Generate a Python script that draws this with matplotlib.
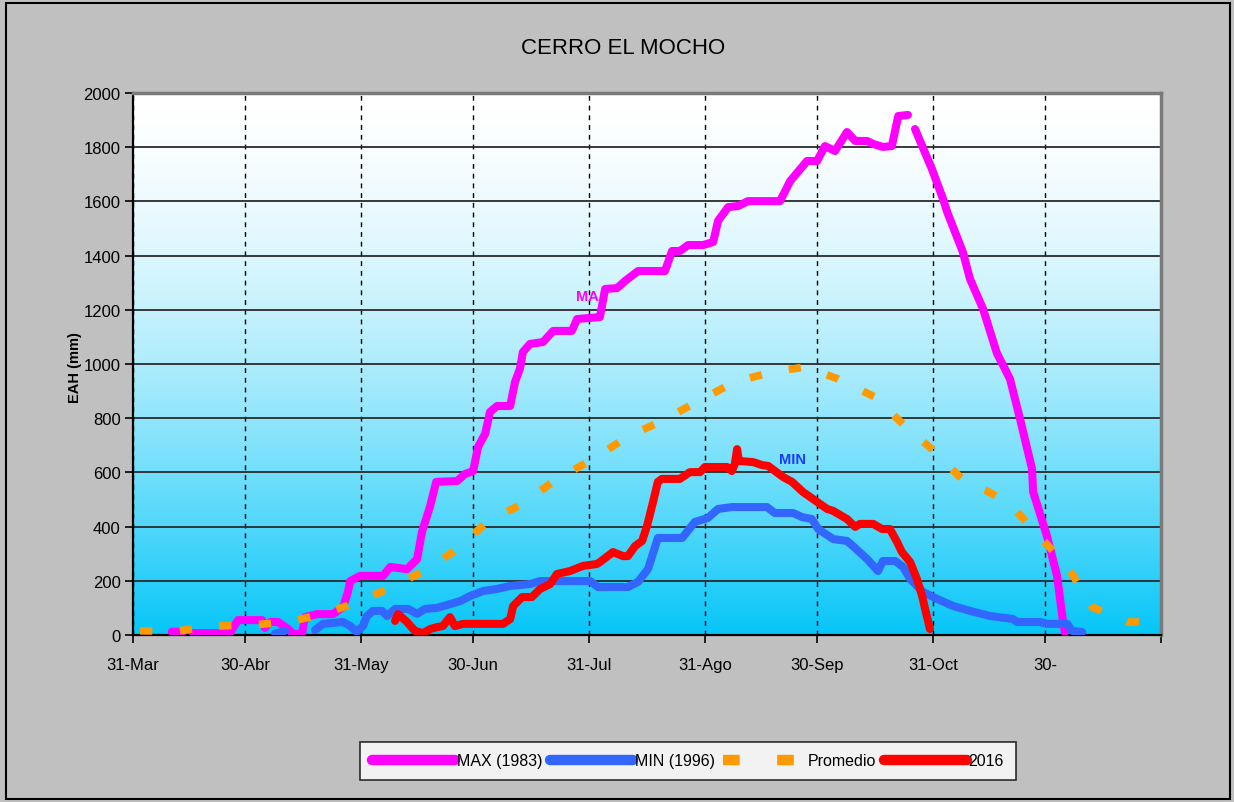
import numpy as np
import matplotlib
matplotlib.use('Agg')
import matplotlib.pyplot as plt
from matplotlib.patches import Rectangle
from matplotlib.colors import LinearSegmentedColormap

NARROW = ['Liberation Sans Narrow', 'Liberation Sans', 'DejaVu Sans']
plt.rcParams['font.family'] = NARROW

# ---------------- data ----------------
title = "CERRO EL MOCHO"
ylabel = "EAH (mm)"
xtick_days = [0, 30, 61, 91, 122, 153, 183, 214, 244, 275]
xtick_labels = ["31-Mar", "30-Abr", "31-May", "30-Jun", "31-Jul", "31-Ago",
                "30-Sep", "31-Oct", "30-", ""]
yticks = list(range(0, 2001, 200))
series_labels = ["MAX (1983)", "MIN (1996)", "Promedio", "2016"]

# days counted from 31-Mar
max_days = [10.4, 13.4, np.nan, 16.0, 25.9, 28.1, 34.5, 35.3, 36.7, 38.8, 41.5, 42.8, 45.2,
            46.0, 49.2, 53.5, 56.2, 57.5, 58.1, 60.7, 66.9, 68.8, 73.3, 76.0, 77.3,
            79.5, 81.1, 86.7, 88.8, 91.0, 92.3, 94.2, 95.5, 97.4, 100.9, 102.2, 103.5,
            104.3, 106.2, 109.7, 112.4, 117.4, 118.8, 124.9, 126.3, 129.5, 131.6, 135.1,
            142.3, 144.2, 146.3, 148.5, 152.5, 155.2, 156.5, 159.2, 161.9, 164.5, 173.1,
            175.8, 180.3, 183.0, 185.1, 187.8, 191.0, 193.2, 196.4, 198.0, 200.6, 203.0,
            204.7, 207.3, np.nan, 209.2, 213.7, 216.7, 217.8, 222.0, 223.9, 227.4, 231.1,
            234.6, 237.3, 240.5, 240.8, 244.5, 247.2, 248.8, 249.3]
max_vals = [12, 12, np.nan, 7, 7, 55, 55, 26, 48, 48, 22, 4, 4,
            66, 77, 77, 103, 159, 199, 218, 218, 251, 243, 280, 380,
            476, 565, 568, 594, 605, 694, 742, 823, 845, 845, 934, 982,
            1044, 1074, 1081, 1122, 1122, 1166, 1173, 1277, 1280, 1306, 1343,
            1343, 1417, 1417, 1439, 1439, 1450, 1528, 1579, 1583, 1601, 1601,
            1675, 1749, 1749, 1804, 1786, 1856, 1823, 1823, 1812, 1801, 1804,
            1915, 1919, np.nan, 1867, 1720, 1609, 1561, 1413, 1314, 1203, 1040,
            945, 797, 613, 528, 365, 218, 48, 10]

min_days = [38.0, 40.7, np.nan, 48.7, 50.8, 56.2, 58.1, 59.9, 61.5, 62.6, 64.2, 66.6, 68.0,
            70.1, 73.6, 76.0, 78.1, 81.3, 84.8, 87.5, 90.2, 93.6, 97.4, 100.9, 106.2,
            108.9, 122.3, 124.4, 132.4, 135.1, 137.8, 140.4, 146.9, 150.3, 153.8, 156.5,
            160.2, 169.6, 171.7, 176.6, 179.0, 181.6, 183.3, 187.3, 191.0, 192.6, 196.4,
            199.3, 200.6, 203.9, 206.0, 207.9, 211.3, 215.1, 219.4, 223.9, 229.3, 235.4,
            236.5, 242.6, 244.5, 249.9, 251.2, 253.9]
min_vals = [5, 15, np.nan, 18, 41, 48, 33, 11, 33, 70, 89, 89, 70,
            96, 96, 78, 96, 100, 114, 125, 144, 162, 170, 181, 188,
            199, 199, 177, 177, 196, 244, 358, 358, 417, 432, 465,
            472, 472, 450, 450, 435, 428, 391, 354, 347, 328, 280,
            236, 273, 273, 251, 207, 159, 133, 107, 89, 70, 59,
            48, 48, 41, 41, 15, 11]

prom_days = [1.9, 12.0, 21.9, 31.8, 41.5, 50.8, 60.2, 69.3, 78.9, 87.5, 95.0, 104.1,
             113.4, 123.1, 132.2, 141.5, 151.2, 161.0, 170.9, 179.8, 188.6, 198.5,
             206.5, 213.7, 223.1, 228.5, 234.6, 242.6, 249.9, 256.6, 266.2, 274.2]
prom_vals = [15, 15, 33, 37, 48, 77, 122, 177, 244, 325, 421, 483,
             576, 649, 731, 790, 863, 934, 970, 989, 945, 878,
             771, 686, 557, 531, 483, 362, 255, 103, 48, 48]

y2016_days = [70.1, 70.9, 73.3, 75.4, 77.6, 79.5, 81.3, 82.9, 84.8, 86.1, 88.3, 90.2,
              99.0, 100.9, 101.7, 104.1, 106.7, 108.9, 111.6, 113.4, 116.9, 120.4,
              124.1, 124.9, 128.4, 131.1, 132.4, 134.3, 136.2, 137.5, 139.1, 140.4,
              141.5, 146.3, 149.0, 151.7, 153.0, 158.9, 160.2, 161.0, 161.6, 162.1,
              165.9, 168.3, 169.9, 173.9, 176.3, 179.2, 181.9, 185.7, 187.3, 191.0,
              193.2, 194.5, 198.0, 200.4, 202.5, 204.4, 205.7, 207.9, 209.7, 211.1,
              211.9, 213.2]
y2016_vals = [52, 77, 48, 15, 7, 22, 29, 33, 66, 33, 41, 41,
              41, 59, 107, 140, 140, 170, 188, 225, 236, 255,
              262, 269, 306, 291, 291, 328, 347, 402, 490, 565,
              576, 576, 601, 601, 620, 620, 605, 631, 686, 642,
              638, 627, 624, 583, 565, 528, 502, 465, 458, 428,
              399, 410, 410, 391, 391, 343, 306, 269, 207, 144,
              96, 22]

annotations = [("MA", 121.5, 1251, '#ff00ff'), ("MIN", 176.3, 649, '#1a3cff')]

# ---------------- figure ----------------
W, H = 1234, 803
fig = plt.figure(figsize=(W / 100, H / 100), dpi=100)
fig.patch.set_facecolor('#c0c0c0')
fig.patches.append(Rectangle((6 / W, 3 / H), (1230 - 6) / W, (799 - 3) / H,
                             transform=fig.transFigure, fill=False,
                             edgecolor='black', lw=1.5, zorder=0))

L, R, T, B = 133, 1161, 94, 636
ax = fig.add_axes([L / W, 1 - B / H, (R - L) / W, (B - T) / H])
ax.set_xlim(0, 275)
ax.set_ylim(0, 2000)

# gradient background
t = np.linspace(0, 1, 256).reshape(-1, 1)  # 0 bottom -> 1 top
g = (1 - t) ** 1.6
cmap = LinearSegmentedColormap.from_list('bg', ['#ffffff', '#06c6f8'])
ax.imshow(g, extent=[0, 275, 0, 2000], origin='lower', aspect='auto',
          cmap=cmap, vmin=0, vmax=1, zorder=0, interpolation='bilinear')

# grid
ax.set_yticks(yticks)
ax.set_xticks(xtick_days)
ax.set_xticklabels(xtick_labels)
ax.yaxis.grid(True, color='#2a2a2a', lw=1.3, ls='-', zorder=1)
ax.xaxis.grid(True, color='black', lw=1.0, ls=(0, (3.5, 3.5)), zorder=1)

ax.tick_params(axis='both', direction='out', length=6, width=1.2, colors='black',
               labelsize=12)
ax.tick_params(axis='x', pad=10)
ax.tick_params(axis='y', pad=3)

for s in ['left', 'bottom']:
    ax.spines[s].set_color('black')
    ax.spines[s].set_linewidth(1.6)
for s in ['top', 'right']:
    ax.spines[s].set_color('#7a7a7a')
    ax.spines[s].set_linewidth(2.5)

lw = 5.8
l1, = ax.plot(max_days, max_vals, color='#ff00ff', lw=lw, solid_capstyle='round',
              solid_joinstyle='round', zorder=3)
l2, = ax.plot(min_days, min_vals, color='#3366ff', lw=lw, solid_capstyle='round',
              solid_joinstyle='round', zorder=4)
l3, = ax.plot(prom_days, prom_vals, color='#ff9900', lw=5.5, ls=(0, (1.6, 3.6)),
              dash_capstyle='butt', zorder=5)
l4, = ax.plot(y2016_days, y2016_vals, color='#ff0000', lw=lw, solid_capstyle='round',
              solid_joinstyle='round', zorder=6)

for txt, xd, yv, c in annotations:
    ax.text(xd, yv, txt, color=c, fontsize=10.5, fontweight='bold', ha='center',
            va='center', family=['Liberation Sans', 'DejaVu Sans'], zorder=7)

fig.text(623 / W, 1 - 48 / H, title, fontsize=16, ha='center', va='center')
fig.text(75 / W, 1 - 368 / H, ylabel, fontsize=10.5, fontweight='bold', rotation=90,
         ha='center', va='center', family=['Liberation Sans', 'DejaVu Sans'])

leg = fig.legend([l1, l2, l3, l4], series_labels, loc='center',
                 bbox_to_anchor=(688 / W, 1 - 762 / H), ncol=4, fontsize=11.5,
                 handlelength=5.2, handletextpad=0.1, columnspacing=0.5,
                 frameon=True, fancybox=False, borderpad=0.75, borderaxespad=0)
leg.get_frame().set_edgecolor('black')
leg.get_frame().set_linewidth(1.2)
leg.get_frame().set_facecolor('white')
for hl in leg.get_lines():
    hl.set_linewidth(7.5)

fig.savefig('out.png', dpi=100, facecolor=fig.get_facecolor())
